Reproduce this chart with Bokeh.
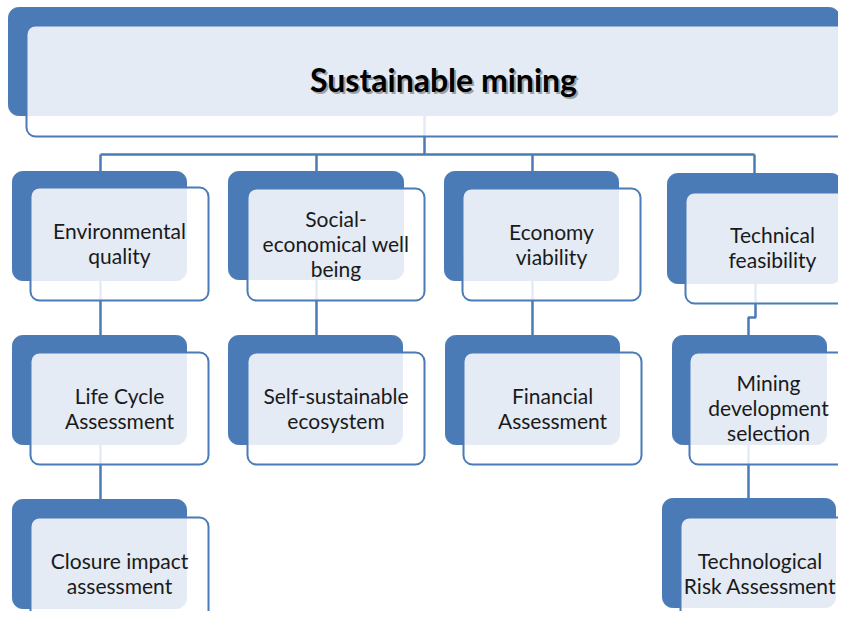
from bokeh.plotting import figure
from bokeh.models import Range1d
from bokeh.core.properties import value
from bokeh.embed import file_html
from bokeh.resources import INLINE

# ---- content ----
title = "Sustainable mining"
branch_labels = ["Environmental\nquality", "Social-\neconomical well\nbeing",
                 "Economy\nviability", "Technical\nfeasibility"]
sub_labels = [["Life Cycle\nAssessment", "Closure impact\nassessment"],
              ["Self-sustainable\necosystem"],
              ["Financial\nAssessment"],
              ["Mining\ndevelopment\nselection", "Technological\nRisk Assessment"]]

# ---- layout (reference pixel coordinates: left, top, right, bottom) ----
top_back = (8, 7, 839, 115)
top_front = (26, 25, 853, 136)
branch_back = [(12, 171, 186, 280), (228, 171, 403, 279), (444, 171, 618, 280), (667, 173, 841, 283)]
branch_front = [(30, 187, 208, 300), (247, 188, 424, 300), (462, 188, 640, 300), (685, 192, 862, 303)]
sub_back = [[(12, 335, 186, 444), (12, 499, 186, 608)],
            [(228, 335, 402, 444)],
            [(445, 335, 619, 444)],
            [(672, 335, 826, 444), (662, 498, 835, 607)]]
sub_front = [[(30, 352, 208, 464), (30, 517, 208, 630)],
             [(247, 352, 424, 464)],
             [(463, 352, 641, 464)],
             [(689, 352, 847, 464), (680, 517, 858, 630)]]

BLUE = "#4a7bb7"
W, H = 838, 611

p = figure(width=W, height=H, output_backend="svg", toolbar_location=None,
           x_range=Range1d(0, W), y_range=Range1d(H, 0), min_border=0,
           background_fill_color="white", border_fill_color="white")
p.axis.visible = False
p.grid.visible = False
p.outline_line_color = None

# connectors
hub_x = 424
bus_y = 154
xs, ys = [], []
xs.append([hub_x, hub_x]); ys.append([top_back[3], bus_y])
cx = [100, 316, 532, 754]
xs.append([cx[0], cx[-1]]); ys.append([bus_y, bus_y])
for i, b in enumerate(branch_back):
    xs.append([cx[i], cx[i]]); ys.append([bus_y, b[1]])
# column 1
xs.append([100, 100]); ys.append([branch_back[0][3], sub_back[0][0][1]])
xs.append([100, 100]); ys.append([sub_back[0][0][3], sub_back[0][1][1]])
# column 2, 3
xs.append([316, 316]); ys.append([branch_back[1][3], sub_back[1][0][1]])
xs.append([532, 532]); ys.append([branch_back[2][3], sub_back[2][0][1]])
# column 4
xs.append([755, 755, 748, 748]); ys.append([branch_back[3][3], 317, 317, sub_back[3][0][1]])
xs.append([748, 748]); ys.append([sub_back[3][0][3], sub_back[3][1][1]])
p.multi_line(xs, ys, line_color=BLUE, line_width=2.5)

backs = [top_back] + branch_back + [b for col in sub_back for b in col]
fronts = [top_front] + branch_front + [b for col in sub_front for b in col]

p.quad(left=[b[0] for b in backs], right=[b[2] for b in backs],
       top=[b[1] for b in backs], bottom=[b[3] for b in backs],
       fill_color=BLUE, line_color=BLUE, line_width=1, border_radius=10)
p.quad(left=[b[0] for b in fronts], right=[b[2] for b in fronts],
       top=[b[1] for b in fronts], bottom=[b[3] for b in fronts],
       fill_color="white", fill_alpha=0.85, line_color=BLUE, line_width=2, border_radius=9)

# labels
lab_boxes = branch_front + [b for col in sub_front for b in col]
labels = branch_labels + [s for col in sub_labels for s in col]
tx, ty = [], []
for b, lab in zip(lab_boxes, labels):
    x = (b[0] + b[2]) / 2
    if b[2] > W:
        x = min(x, 772)
        half = max(len(s) for s in lab.split("\n")) * 10.2 / 2
        x = min(x, W - 2 - half)  # keep label inside the visible page
    tx.append(x)
    ty.append((b[1] + b[3]) / 2 - 1)
p.text(x=tx, y=ty, text=labels, text_align="center", text_baseline="middle",
       text_font=value("Lato"), text_font_size="21px", text_color="#1a1a1a",
       text_line_height=1.0)

tcx = 443
tcy = 79
p.text(x=[tcx + 2], y=[tcy + 2], text=[title], text_align="center", text_baseline="middle",
       text_font=value("Lato"), text_font_style="bold", text_font_size="32px",
       text_color="#555555", text_alpha=0.5)
p.text(x=[tcx], y=[tcy], text=[title], text_align="center", text_baseline="middle",
       text_font=value("Lato"), text_font_style="bold", text_font_size="32px",
       text_color="black")

open("out.html", "w").write(file_html(p, INLINE))
